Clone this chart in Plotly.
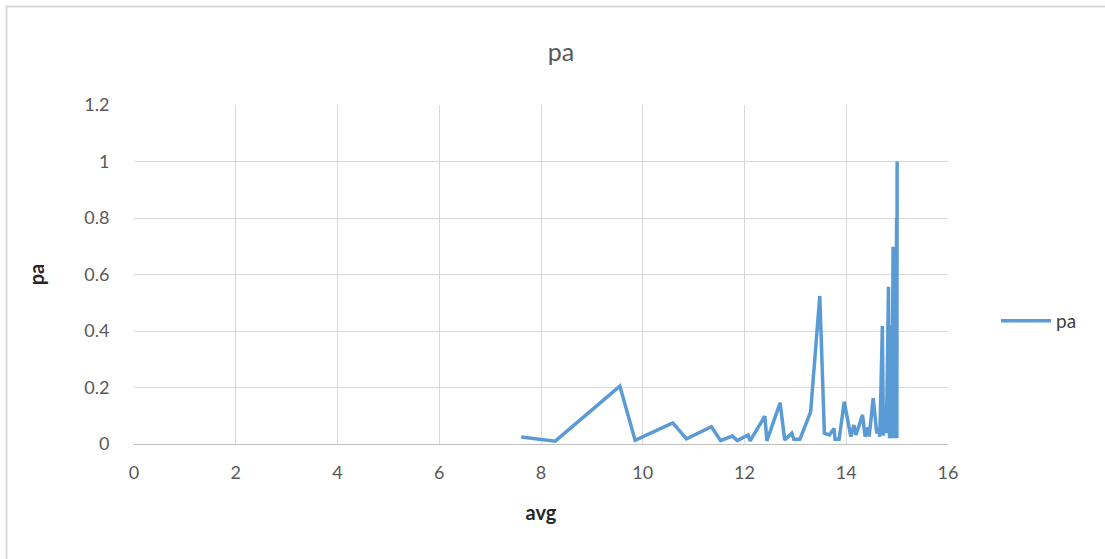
import plotly.graph_objects as go

# pa against avg
avg = [7.61, 8.28, 9.55, 9.85, 10.59, 10.86, 11.35, 11.53, 11.76, 11.86, 12.07, 12.11,
       12.40, 12.44, 12.70, 12.79, 12.93, 12.97, 13.09, 13.30, 13.48, 13.57, 13.67,
       13.76, 13.78, 13.86, 13.96, 14.09, 14.15, 14.19, 14.32, 14.37, 14.43, 14.45,
       14.53, 14.60, 14.64, 14.66, 14.71, 14.73, 14.76, 14.78, 14.80, 14.83, 14.85,
       14.87, 14.88, 14.89, 14.90, 14.92, 14.93, 14.94, 14.95, 14.96, 14.97, 14.98,
       14.985, 14.99, 14.995, 15.00]
pa = [0.025, 0.010, 0.205, 0.013, 0.075, 0.018, 0.061, 0.012, 0.028, 0.012, 0.032, 0.011,
      0.099, 0.011, 0.146, 0.014, 0.038, 0.017, 0.017, 0.114, 0.524, 0.038, 0.032,
      0.055, 0.017, 0.017, 0.150, 0.026, 0.067, 0.032, 0.103, 0.026, 0.059, 0.026,
      0.162, 0.038, 0.055, 0.026, 0.418, 0.030, 0.120, 0.038, 0.167, 0.557, 0.020,
      0.250, 0.020, 0.420, 0.020, 0.698, 0.020, 0.520, 0.020, 0.610, 0.020, 0.450,
      0.020, 0.800, 0.020, 1.000]

x_ticks = [0, 2, 4, 6, 8, 10, 12, 14, 16]
y_ticks = [0, 0.2, 0.4, 0.6, 0.8, 1, 1.2]
y_tick_text = ["0", "0.2", "0.4", "0.6", "0.8", "1", "1.2"]

FONT = "Lato, 'Open Sans', sans-serif"
GRID = "#d9d9d9"
TXT = "#595959"

fig = go.Figure()
fig.add_trace(go.Scatter(
    x=avg, y=pa, mode="lines", name="pa",
    line=dict(color="#5b9bd5", width=3.5, shape="linear"),
))

fig.update_layout(
    width=1105, height=559,
    margin=dict(l=134, r=157, t=105, b=115),
    paper_bgcolor="white", plot_bgcolor="white",
    font=dict(family=FONT, size=18, color=TXT),
    title=dict(text="pa", x=561 / 1105, xanchor="center", y=1 - 52 / 559, yanchor="middle",
               font=dict(family=FONT, size=25, color=TXT)),
    showlegend=True,
    legend=dict(x=(996 - 134) / 814, xanchor="left", y=(444 - 321) / 339, yanchor="middle",
                font=dict(family=FONT, size=19, color="#404040"),
                bgcolor="rgba(0,0,0,0)", itemwidth=50),
    xaxis=dict(
        range=[0, 16], tickvals=x_ticks, ticktext=[str(v) for v in x_ticks],
        showgrid=True, gridcolor=GRID, gridwidth=1,
        zeroline=False, showline=True, linecolor="#bfbfbf", linewidth=1,
        ticks="outside", ticklen=12, tickcolor="rgba(0,0,0,0)",
        tickfont=dict(family=FONT, size=18, color=TXT),
        title=dict(text="<b>avg</b>", standoff=24,
                   font=dict(family=FONT, size=20, color="#262626")),
        fixedrange=True,
    ),
    yaxis=dict(
        range=[0, 1.2], tickvals=y_ticks, ticktext=y_tick_text,
        showgrid=True, gridcolor=GRID, gridwidth=1,
        zeroline=False, showline=False,
        ticks="outside", ticklen=20, tickcolor="rgba(0,0,0,0)",
        tickfont=dict(family=FONT, size=18, color=TXT),
        title=dict(text="<b>pa</b>", standoff=34,
                   font=dict(family=FONT, size=20, color="#262626")),
        fixedrange=True,
    ),
)

# chart frame
fig.add_shape(type="rect", xref="paper", yref="paper",
              x0=(6.5 - 134) / 814, x1=(1120 - 134) / 814,
              y0=(444 - 575) / 339, y1=(444 - 6.5) / 339,
              line=dict(color="#d9d9d9", width=2), fillcolor="rgba(0,0,0,0)", layer="below")

fig.write_html("out.html")
